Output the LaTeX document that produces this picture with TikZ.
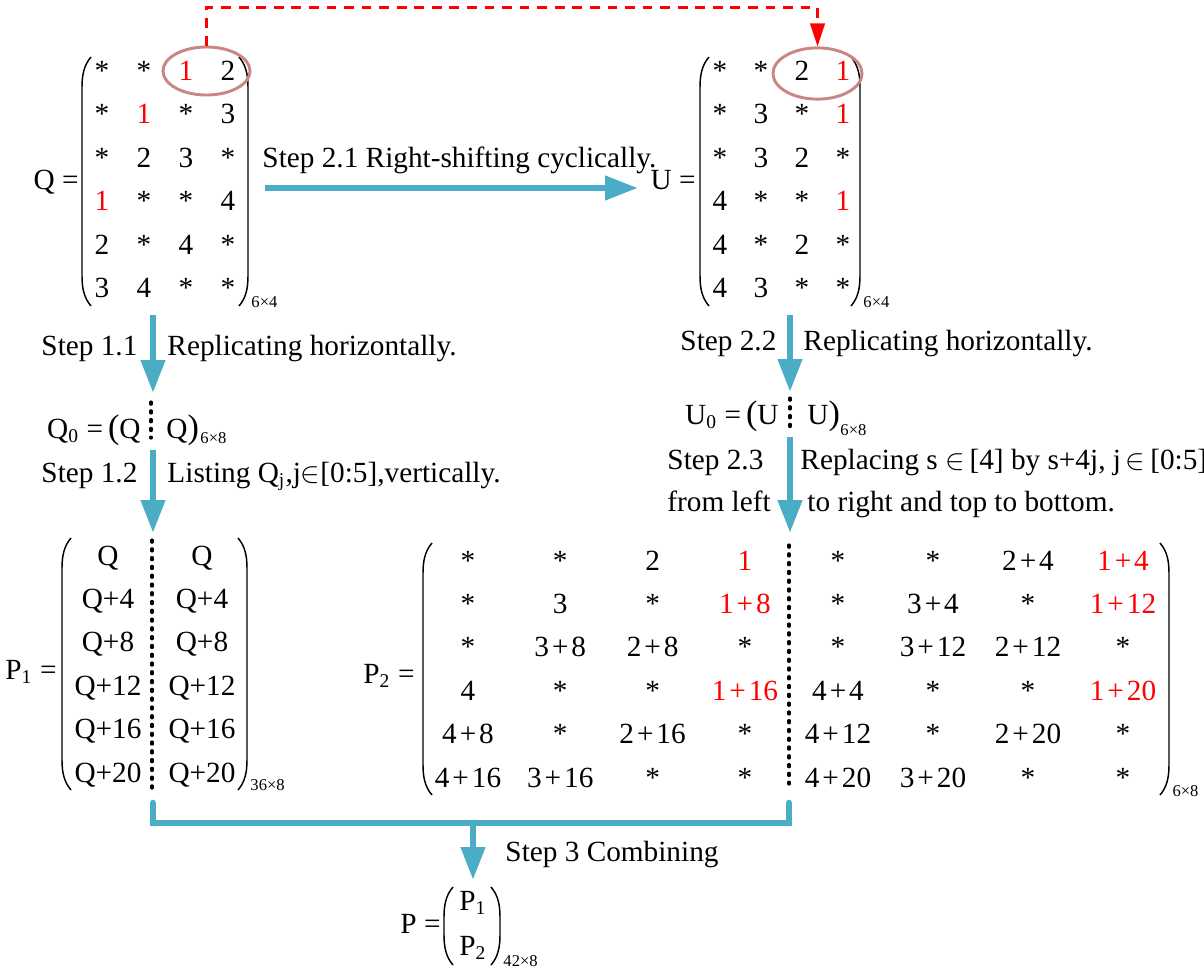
\documentclass[tikz,border=0pt]{standalone}
\usepackage{fontspec}
\setmainfont{Liberation Serif}
\newfontfamily\timesfont{Liberation Serif}
\usetikzlibrary{shapes.geometric, arrows.meta, positioning}
\definecolor{flowblue}{RGB}{75,172,198}
\definecolor{ringred}{RGB}{202,134,130}
\tikzstyle{txt}=[inner sep=0pt, anchor=base west, font=\timesfont\fontsize{12}{14}\selectfont]
\tikzstyle{lhs}=[inner sep=0pt, anchor=base east, font=\timesfont\fontsize{12}{14}\selectfont]
\tikzstyle{ent}=[inner sep=0pt, anchor=base, font=\timesfont\fontsize{12}{14}\selectfont]
\tikzstyle{dims}=[inner sep=0pt, anchor=base west, font=\timesfont\fontsize{6.8}{8}\selectfont]
\tikzstyle{flow}=[-{Triangle[length=13.5pt, width=9.5pt]}, line width=2.7pt, draw=flowblue]
\tikzstyle{bow}=[line width=0.6pt]
\tikzstyle{divider}=[line width=1.3pt, line cap=round, dash pattern=on 0.9pt off 2.7pt]
\tikzstyle{ring}=[ellipse, draw=ringred, line width=1.2pt, inner sep=0pt]
\tikzstyle{swap}=[draw=red, line width=1pt, dash pattern=on 4pt off 3.2pt, -{Triangle[length=9.5pt, width=6pt, fill=red]}]
\newcommand{\rd}[1]{\textcolor{red}{#1}}
\newcommand{\splus}{\kern.1em+\kern.1em}
\newcommand{\bigpar}[1]{{\fontsize{14}{16}\selectfont#1}}
\newcommand{\leftbow}[3]{\draw[bow] ({#1+9},#2) .. controls ({#1+2},{#2+8}) and (#1,{#2+18}) .. (#1,{#2+30}) -- (#1,{#3-30}) .. controls (#1,{#3-18}) and ({#1+2},{#3-8}) .. ({#1+9},#3);}
\newcommand{\rightbow}[3]{\draw[bow] ({#1-9},#2) .. controls ({#1-2},{#2+8}) and (#1,{#2+18}) .. (#1,{#2+30}) -- (#1,{#3-30}) .. controls (#1,{#3-18}) and ({#1-2},{#3-8}) .. ({#1-9},#3);}

\begin{document}
\begin{tikzpicture}[x=0.41pt, y=-0.41pt]
\useasboundingbox (0,0) rectangle (1204,970);

% Q
\node[lhs] (qname) at (79,189) {Q =};
\leftbow{82}{57}{306}
\rightbow{248}{57}{306}
\foreach \row [count=\i] in {{*,*,\rd{1},2},{*,\rd{1},*,3},{*,2,3,*},{\rd{1},*,*,4},{2,*,4,*},{3,4,*,*}}
  \foreach \e [count=\j] in \row
    \node[ent] (q-\i-\j) at ({102+42*(\j-1)},{80+43.5*(\i-1)}) {\e};
\node[dims] (qdim) at (251,307) {6×4};
\node[ring, minimum width=35.7pt, minimum height=19.7pt] (ringQ) at (206.5,71) {};

% U
\node[lhs] (uname) at (696,189) {U =};
\leftbow{700}{57}{306}
\rightbow{860}{57}{306}
\foreach \row [count=\i] in {{*,*,2,\rd{1}},{*,3,*,\rd{1}},{*,3,2,*},{4,*,*,\rd{1}},{4,*,2,*},{4,3,*,*}}
  \foreach \e [count=\j] in \row
    \node[ent] (u-\i-\j) at ({720+41*(\j-1)},{80+43.5*(\i-1)}) {\e};
\node[dims] (udim) at (863,307) {6×4};
\node[ring, minimum width=36.5pt, minimum height=21pt] (ringU) at (817.5,73.5) {};

% swapped pair
\draw[swap] (ringQ.north) -- ++(0,-38) -| (ringU.north);

% Step 2.1
\coordinate (qout) at (265,188);
\coordinate (uin) at (638,188);
\node[txt] (s21) at (262,167) {Step 2.1 Right-shifting cyclically.};
\draw[flow] (qout) -- (uin);

% Step 1.1 and Q0
\coordinate (qbot) at (153,315);
\coordinate (q0top) at (153,393);
\node[txt] (s11) at (41,355) {Step 1.1};
\node[txt] (s11b) at (167,355) {Replicating horizontally.};
\draw[flow] (qbot) -- (q0top);
\node[lhs] (q0l) at (141,438) {Q\textsubscript{0} =\,\bigpar{(}Q};
\node[txt] (q0r) at (166,438) {Q\bigpar{)}};
\node[dims] (q0dim) at (200,443) {6×8};
\coordinate (q0a) at (151,402);
\coordinate (q0b) at (151,438);
\draw[divider] (q0a) -- (q0b);

% Step 1.2
\coordinate (q0bot) at (153,450);
\coordinate (p1top) at (153,533);
\node[txt] (s12) at (41,482) {Step 1.2};
\node[txt] (s12b) at (167,482) {Listing Q\textsubscript{j},j$\in$[0:5],vertically.};
\draw[flow] (q0bot) -- (p1top);

% Step 2.2 and U0
\coordinate (ubot) at (790,315);
\coordinate (u0top) at (790,392);
\node[txt] (s22) at (680,350) {Step 2.2};
\node[txt] (s22b) at (803,350) {Replicating horizontally.};
\draw[flow] (ubot) -- (u0top);
\node[lhs] (u0l) at (779,424) {U\textsubscript{0} =\,\bigpar{(}U};
\node[txt] (u0r) at (807,424) {U\bigpar{)}};
\node[dims] (u0dim) at (840,435) {6×8};
\coordinate (u0a) at (790,398);
\coordinate (u0b) at (790,428);
\draw[divider] (u0a) -- (u0b);

% Step 2.3
\coordinate (u0bot) at (790,437);
\coordinate (p2top) at (790,533);
\node[txt] (s23) at (667,469) {Step 2.3};
\node[txt] (s23b) at (800,469) {Replacing s $\in$\,[4] by s+4j, j\,$\in$\,[0:5]};
\node[txt] (s23c) at (667,511) {from left};
\node[txt] (s23d) at (807,511) {to right and top to bottom.};
\draw[flow] (u0bot) -- (p2top);

% P1
\node[lhs] (p1name) at (57,679) {P\textsubscript{1} =};
\leftbow{62}{538}{790}
\rightbow{247}{538}{790}
\foreach \e [count=\i] in {Q,Q+4,Q+8,Q+12,Q+16,Q+20} {
  \node[ent] (p1-\i-1) at (108,{565+43.4*(\i-1)}) {\e};
  \node[ent] (p1-\i-2) at (202,{565+43.4*(\i-1)}) {\e};
}
\draw[divider] (152,540) -- (152,790);
\node[dims] (p1dim) at (250,790) {36×8};

% P2
\node[lhs] (p2name) at (415,683) {P\textsubscript{2} =};
\leftbow{423}{543}{795}
\rightbow{1169}{543}{795}
\foreach \row [count=\i] in {{*,*,2,\rd{1}},{*,3,*,\rd{1\splus8}},{*,3\splus8,2\splus8,*},{4,*,*,\rd{1\splus16}},{4\splus8,*,2\splus16,*},{4\splus16,3\splus16,*,*}}
  \foreach \e [count=\j] in \row
    \node[ent] (pa-\i-\j) at ({468+92.3*(\j-1)},{570+43.4*(\i-1)}) {\e};
\foreach \row [count=\i] in {{*,*,2\splus4,\rd{1\splus4}},{*,3\splus4,*,\rd{1\splus12}},{*,3\splus12,2\splus12,*},{4\splus4,*,*,\rd{1\splus20}},{4\splus12,*,2\splus20,*},{4\splus20,3\splus20,*,*}}
  \foreach \e [count=\j] in \row
    \node[ent] (pb-\i-\j) at ({838+95*(\j-1)},{570+43.4*(\i-1)}) {\e};
\draw[divider] (789,545) -- (789,784);
\node[dims] (p2dim) at (1172,796) {6×8};

% Step 3
\coordinate (p1bot) at (153,803);
\coordinate (p2bot) at (789,803);
\coordinate (join) at (473,823);
\coordinate (ptop) at (473,880);
\draw[line width=2.7pt, draw=flowblue, line cap=round] (p1bot) |- (p2bot |- join) -- (p2bot);
\draw[flow] (join) -- (ptop);
\node[txt] (s3) at (505,861) {Step 3 Combining};

% P
\node[lhs] (pname) at (441,933) {P =};
\leftbow{444}{887}{965}
\rightbow{500}{887}{965}
\node[ent] (pp1) at (473,910) {P\textsubscript{1}};
\node[ent] (pp2) at (473,955) {P\textsubscript{2}};
\node[dims] (pdim) at (503,966) {42×8};

\end{tikzpicture}
\end{document}
